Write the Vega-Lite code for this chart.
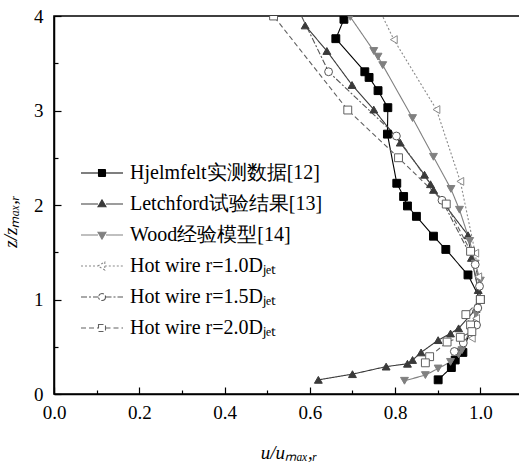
{
  "$schema": "https://vega.github.io/schema/vega-lite/v6.json",
  "width": 469,
  "height": 378,
  "padding": {"left": 1, "top": 7, "right": 0, "bottom": 5},
  "config": {
    "font": "Liberation Serif",
    "view": {"stroke": "black", "strokeWidth": 1.6},
    "axis": {
      "grid": false,
      "domainColor": "black",
      "domainWidth": 1.5,
      "tickColor": "black",
      "tickWidth": 1.2,
      "labelColor": "black",
      "labelFont": "Liberation Serif",
      "labelFontSize": 19,
      "labelFlush": false,
      "titleFont": "Liberation Serif",
      "titleFontSize": 19,
      "titleFontStyle": "italic",
      "titleFontWeight": "normal",
      "titleColor": "black"
    },
    "legend": {
      "disable": true,
      "orient": "none",
      "legendX": 38,
      "legendY": 147,
      "padding": 0,
      "symbolSize": 49,
      "symbolOpacity": 1,
      "symbolStrokeWidth": 1.1,
      "labelFont": "Liberation Serif",
      "labelFontSize": 20,
      "labelColor": "black",
      "labelOffset": 18,
      "labelLimit": 400,
      "rowPadding": 11
    }
  },
  "data": {
    "values": [
      {"s": "Hjelmfelt实测数据[12]", "x": 0.680, "y": 3.965},
      {"s": "Hjelmfelt实测数据[12]", "x": 0.661, "y": 3.76},
      {"s": "Hjelmfelt实测数据[12]", "x": 0.729, "y": 3.41},
      {"s": "Hjelmfelt实测数据[12]", "x": 0.739, "y": 3.35},
      {"s": "Hjelmfelt实测数据[12]", "x": 0.760, "y": 3.21},
      {"s": "Hjelmfelt实测数据[12]", "x": 0.783, "y": 3.03},
      {"s": "Hjelmfelt实测数据[12]", "x": 0.782, "y": 2.75},
      {"s": "Hjelmfelt实测数据[12]", "x": 0.804, "y": 2.23},
      {"s": "Hjelmfelt实测数据[12]", "x": 0.820, "y": 2.09},
      {"s": "Hjelmfelt实测数据[12]", "x": 0.829, "y": 1.99},
      {"s": "Hjelmfelt实测数据[12]", "x": 0.850, "y": 1.88},
      {"s": "Hjelmfelt实测数据[12]", "x": 0.890, "y": 1.67},
      {"s": "Hjelmfelt实测数据[12]", "x": 0.919, "y": 1.53},
      {"s": "Hjelmfelt实测数据[12]", "x": 0.971, "y": 1.26},
      {"s": "Hjelmfelt实测数据[12]", "x": 1.0, "y": 1.0},
      {"s": "Hjelmfelt实测数据[12]", "x": 0.959, "y": 0.44},
      {"s": "Hjelmfelt实测数据[12]", "x": 0.941, "y": 0.36},
      {"s": "Hjelmfelt实测数据[12]", "x": 0.932, "y": 0.28},
      {"s": "Hjelmfelt实测数据[12]", "x": 0.901, "y": 0.15},

      {"s": "Letchford试验结果[13]", "x": 0.589, "y": 3.90},
      {"s": "Letchford试验结果[13]", "x": 0.640, "y": 3.63},
      {"s": "Letchford试验结果[13]", "x": 0.699, "y": 3.27},
      {"s": "Letchford试验结果[13]", "x": 0.750, "y": 3.01},
      {"s": "Letchford试验结果[13]", "x": 0.812, "y": 2.66},
      {"s": "Letchford试验结果[13]", "x": 0.869, "y": 2.32},
      {"s": "Letchford试验结果[13]", "x": 0.883, "y": 2.22},
      {"s": "Letchford试验结果[13]", "x": 0.890, "y": 2.16},
      {"s": "Letchford试验结果[13]", "x": 0.971, "y": 1.68},
      {"s": "Letchford试验结果[13]", "x": 0.979, "y": 1.44},
      {"s": "Letchford试验结果[13]", "x": 0.995, "y": 1.10},
      {"s": "Letchford试验结果[13]", "x": 0.990, "y": 0.90},
      {"s": "Letchford试验结果[13]", "x": 0.949, "y": 0.695},
      {"s": "Letchford试验结果[13]", "x": 0.930, "y": 0.64},
      {"s": "Letchford试验结果[13]", "x": 0.901, "y": 0.57},
      {"s": "Letchford试验结果[13]", "x": 0.861, "y": 0.44},
      {"s": "Letchford试验结果[13]", "x": 0.841, "y": 0.36},
      {"s": "Letchford试验结果[13]", "x": 0.829, "y": 0.32},
      {"s": "Letchford试验结果[13]", "x": 0.779, "y": 0.29},
      {"s": "Letchford试验结果[13]", "x": 0.700, "y": 0.21},
      {"s": "Letchford试验结果[13]", "x": 0.620, "y": 0.15},

      {"s": "Wood经验模型[14]", "x": 0.695, "y": 3.99},
      {"s": "Wood经验模型[14]", "x": 0.750, "y": 3.63},
      {"s": "Wood经验模型[14]", "x": 0.760, "y": 3.57},
      {"s": "Wood经验模型[14]", "x": 0.771, "y": 3.48},
      {"s": "Wood经验模型[14]", "x": 0.841, "y": 2.92},
      {"s": "Wood经验模型[14]", "x": 0.890, "y": 2.51},
      {"s": "Wood经验模型[14]", "x": 0.931, "y": 2.17},
      {"s": "Wood经验模型[14]", "x": 0.951, "y": 1.95},
      {"s": "Wood经验模型[14]", "x": 0.975, "y": 1.62},
      {"s": "Wood经验模型[14]", "x": 0.988, "y": 1.38},
      {"s": "Wood经验模型[14]", "x": 1.0, "y": 1.2},
      {"s": "Wood经验模型[14]", "x": 1.0, "y": 0.98},
      {"s": "Wood经验模型[14]", "x": 0.99, "y": 0.85},
      {"s": "Wood经验模型[14]", "x": 0.957, "y": 0.465},
      {"s": "Wood经验模型[14]", "x": 0.949, "y": 0.42},
      {"s": "Wood经验模型[14]", "x": 0.930, "y": 0.34},
      {"s": "Wood经验模型[14]", "x": 0.901, "y": 0.27},
      {"s": "Wood经验模型[14]", "x": 0.871, "y": 0.20},
      {"s": "Wood经验模型[14]", "x": 0.822, "y": 0.14},

      {"s": "Hot wire r=1.0Dⱼₑₜ", "x": 0.765, "y": 4.05},
      {"s": "Hot wire r=1.0Dⱼₑₜ", "x": 0.797, "y": 3.75},
      {"s": "Hot wire r=1.0Dⱼₑₜ", "x": 0.897, "y": 3.01},
      {"s": "Hot wire r=1.0Dⱼₑₜ", "x": 0.953, "y": 2.25},
      {"s": "Hot wire r=1.0Dⱼₑₜ", "x": 0.988, "y": 1.49},
      {"s": "Hot wire r=1.0Dⱼₑₜ", "x": 0.995, "y": 1.24},
      {"s": "Hot wire r=1.0Dⱼₑₜ", "x": 1.0, "y": 1.0},
      {"s": "Hot wire r=1.0Dⱼₑₜ", "x": 0.99, "y": 0.8},
      {"s": "Hot wire r=1.0Dⱼₑₜ", "x": 0.980, "y": 0.59},

      {"s": "Hot wire r=1.5Dⱼₑₜ", "x": 0.575, "y": 4.05},
      {"s": "Hot wire r=1.5Dⱼₑₜ", "x": 0.644, "y": 3.41},
      {"s": "Hot wire r=1.5Dⱼₑₜ", "x": 0.803, "y": 2.73},
      {"s": "Hot wire r=1.5Dⱼₑₜ", "x": 0.910, "y": 2.05},
      {"s": "Hot wire r=1.5Dⱼₑₜ", "x": 0.988, "y": 1.37},
      {"s": "Hot wire r=1.5Dⱼₑₜ", "x": 0.998, "y": 1.14},
      {"s": "Hot wire r=1.5Dⱼₑₜ", "x": 1.0, "y": 1.0},
      {"s": "Hot wire r=1.5Dⱼₑₜ", "x": 0.994, "y": 0.91},
      {"s": "Hot wire r=1.5Dⱼₑₜ", "x": 0.991, "y": 0.73},
      {"s": "Hot wire r=1.5Dⱼₑₜ", "x": 0.960, "y": 0.54},
      {"s": "Hot wire r=1.5Dⱼₑₜ", "x": 0.939, "y": 0.45},

      {"s": "Hot wire r=2.0Dⱼₑₜ", "x": 0.515, "y": 4.0},
      {"s": "Hot wire r=2.0Dⱼₑₜ", "x": 0.689, "y": 3.005},
      {"s": "Hot wire r=2.0Dⱼₑₜ", "x": 0.808, "y": 2.50},
      {"s": "Hot wire r=2.0Dⱼₑₜ", "x": 0.920, "y": 2.01},
      {"s": "Hot wire r=2.0Dⱼₑₜ", "x": 0.977, "y": 1.51},
      {"s": "Hot wire r=2.0Dⱼₑₜ", "x": 1.0, "y": 1.0},
      {"s": "Hot wire r=2.0Dⱼₑₜ", "x": 0.966, "y": 0.84},
      {"s": "Hot wire r=2.0Dⱼₑₜ", "x": 0.977, "y": 0.73},
      {"s": "Hot wire r=2.0Dⱼₑₜ", "x": 0.980, "y": 0.66},
      {"s": "Hot wire r=2.0Dⱼₑₜ", "x": 0.953, "y": 0.60},
      {"s": "Hot wire r=2.0Dⱼₑₜ", "x": 0.922, "y": 0.55},
      {"s": "Hot wire r=2.0Dⱼₑₜ", "x": 0.881, "y": 0.395},
      {"s": "Hot wire r=2.0Dⱼₑₜ", "x": 0.871, "y": 0.33}
    ]
  },
  "encoding": {
    "x": {
      "field": "x", "type": "quantitative",
      "scale": {"domain": [0, 1.1], "nice": false, "zero": false},
      "axis": {
        "title": "u/uₘₐₓ,ᵣ",
        "values": [0, 0.1, 0.2, 0.3, 0.4, 0.5, 0.6, 0.7, 0.8, 0.9, 1.0],
        "labelExpr": "round(datum.value*10)%2==0 ? format(datum.value,'.1f') : ''",
        "tickSize": {"condition": {"test": "round(datum.value*10)%2==0", "value": -7}, "value": -4},
        "labelPadding": 16,
        "titlePadding": 21
      }
    },
    "y": {
      "field": "y", "type": "quantitative",
      "scale": {"domain": [0, 4], "nice": false},
      "axis": {
        "title": "z/zₘₐₓ,ᵣ",
        "titleY": 205,
        "values": [0, 0.5, 1, 1.5, 2, 2.5, 3, 3.5, 4],
        "labelExpr": "datum.value%1==0 ? format(datum.value,'d') : ''",
        "tickSize": {"condition": {"test": "datum.value%1==0", "value": -7}, "value": -4},
        "labelPadding": 18,
        "titlePadding": 13
      }
    }
  },
  "resolve": {"scale": {"shape": "independent", "stroke": "independent", "fill": "independent", "strokeDash": "independent"}},
  "layer": [
    {
      "mark": {"type": "line", "strokeWidth": 1.1, "clip": true},
      "encoding": {
        "order": {"field": "y", "type": "quantitative"},
        "stroke": {
          "field": "s", "type": "nominal",
          "scale": {
            "domain": ["Hjelmfelt实测数据[12]", "Letchford试验结果[13]", "Wood经验模型[14]", "Hot wire r=1.0Dⱼₑₜ", "Hot wire r=1.5Dⱼₑₜ", "Hot wire r=2.0Dⱼₑₜ"],
            "range": ["#000000", "#3a3a3a", "#808080", "#8a8a8a", "#555555", "#606060"]
          }
        },
        "strokeDash": {
          "field": "s", "type": "nominal",
          "scale": {
            "domain": ["Hjelmfelt实测数据[12]", "Letchford试验结果[13]", "Wood经验模型[14]", "Hot wire r=1.0Dⱼₑₜ", "Hot wire r=1.5Dⱼₑₜ", "Hot wire r=2.0Dⱼₑₜ"],
            "range": [[1, 0], [1, 0], [1, 0], [2, 2], [6, 2, 2, 2], [5, 3]]
          }
        }
      }
    },
    {
      "mark": {"type": "point", "size": 62, "strokeWidth": 1, "opacity": 1, "clip": true},
      "encoding": {
        "shape": {
          "field": "s", "type": "nominal",
          "scale": {
            "domain": ["Hjelmfelt实测数据[12]", "Letchford试验结果[13]", "Wood经验模型[14]", "Hot wire r=1.0Dⱼₑₜ", "Hot wire r=1.5Dⱼₑₜ", "Hot wire r=2.0Dⱼₑₜ"],
            "range": ["square", "triangle-up", "triangle-down", "triangle-left", "circle", "square"]
          }
        },
        "stroke": {
          "field": "s", "type": "nominal",
          "scale": {
            "domain": ["Hjelmfelt实测数据[12]", "Letchford试验结果[13]", "Wood经验模型[14]", "Hot wire r=1.0Dⱼₑₜ", "Hot wire r=1.5Dⱼₑₜ", "Hot wire r=2.0Dⱼₑₜ"],
            "range": ["#000000", "#3a3a3a", "#808080", "#8a8a8a", "#555555", "#606060"]
          }
        },
        "fill": {
          "field": "s", "type": "nominal",
          "scale": {
            "domain": ["Hjelmfelt实测数据[12]", "Letchford试验结果[13]", "Wood经验模型[14]", "Hot wire r=1.0Dⱼₑₜ", "Hot wire r=1.5Dⱼₑₜ", "Hot wire r=2.0Dⱼₑₜ"],
            "range": ["#000000", "#3a3a3a", "#808080", "#ffffff", "#ffffff", "#ffffff"]
          }
        }
      }
    },
    {
      "mark": {"type": "point", "size": 49, "strokeWidth": 1.1, "opacity": 0},
      "encoding": {
        "shape": {
          "field": "s", "type": "nominal",
          "scale": {
            "domain": ["Hjelmfelt实测数据[12]", "Letchford试验结果[13]", "Wood经验模型[14]", "Hot wire r=1.0Dⱼₑₜ", "Hot wire r=1.5Dⱼₑₜ", "Hot wire r=2.0Dⱼₑₜ"],
            "range": ["M-6,0H-1M1,0H6M-1,-1H1V1H-1Z", "M-6,0H-1.15M1.15,0H6M0,-1.2L1.15,0.8H-1.15Z", "M-6,0H-1.15M1.15,0H6M0,1.2L1.15,-0.8H-1.15Z", "M-6,0H-1.2M0.8,0H6M-1.2,0L0.8,-1.15V1.15Z", "M-6,0H-1M1,0H6M1,0A1,1,0,1,1,-1,0A1,1,0,1,1,1,0Z", "M-6,0H-1M1,0H6M-1,-1H1V1H-1Z"]
          },
          "legend": {"title": null}
        },
        "stroke": {
          "field": "s", "type": "nominal",
          "scale": {
            "domain": ["Hjelmfelt实测数据[12]", "Letchford试验结果[13]", "Wood经验模型[14]", "Hot wire r=1.0Dⱼₑₜ", "Hot wire r=1.5Dⱼₑₜ", "Hot wire r=2.0Dⱼₑₜ"],
            "range": ["#000000", "#3a3a3a", "#808080", "#8a8a8a", "#555555", "#606060"]
          },
          "legend": {"title": null}
        },
        "fill": {
          "field": "s", "type": "nominal",
          "scale": {
            "domain": ["Hjelmfelt实测数据[12]", "Letchford试验结果[13]", "Wood经验模型[14]", "Hot wire r=1.0Dⱼₑₜ", "Hot wire r=1.5Dⱼₑₜ", "Hot wire r=2.0Dⱼₑₜ"],
            "range": ["#000000", "#3a3a3a", "#808080", "#ffffff", "#ffffff", "#ffffff"]
          },
          "legend": {"title": null}
        },
        "strokeDash": {
          "field": "s", "type": "nominal",
          "scale": {
            "domain": ["Hjelmfelt实测数据[12]", "Letchford试验结果[13]", "Wood经验模型[14]", "Hot wire r=1.0Dⱼₑₜ", "Hot wire r=1.5Dⱼₑₜ", "Hot wire r=2.0Dⱼₑₜ"],
            "range": [[1, 0], [1, 0], [1, 0], [2, 2], [6, 2, 2, 2], [5, 3]]
          },
          "legend": {"title": null}
        }
      }
    }
  ]
}
